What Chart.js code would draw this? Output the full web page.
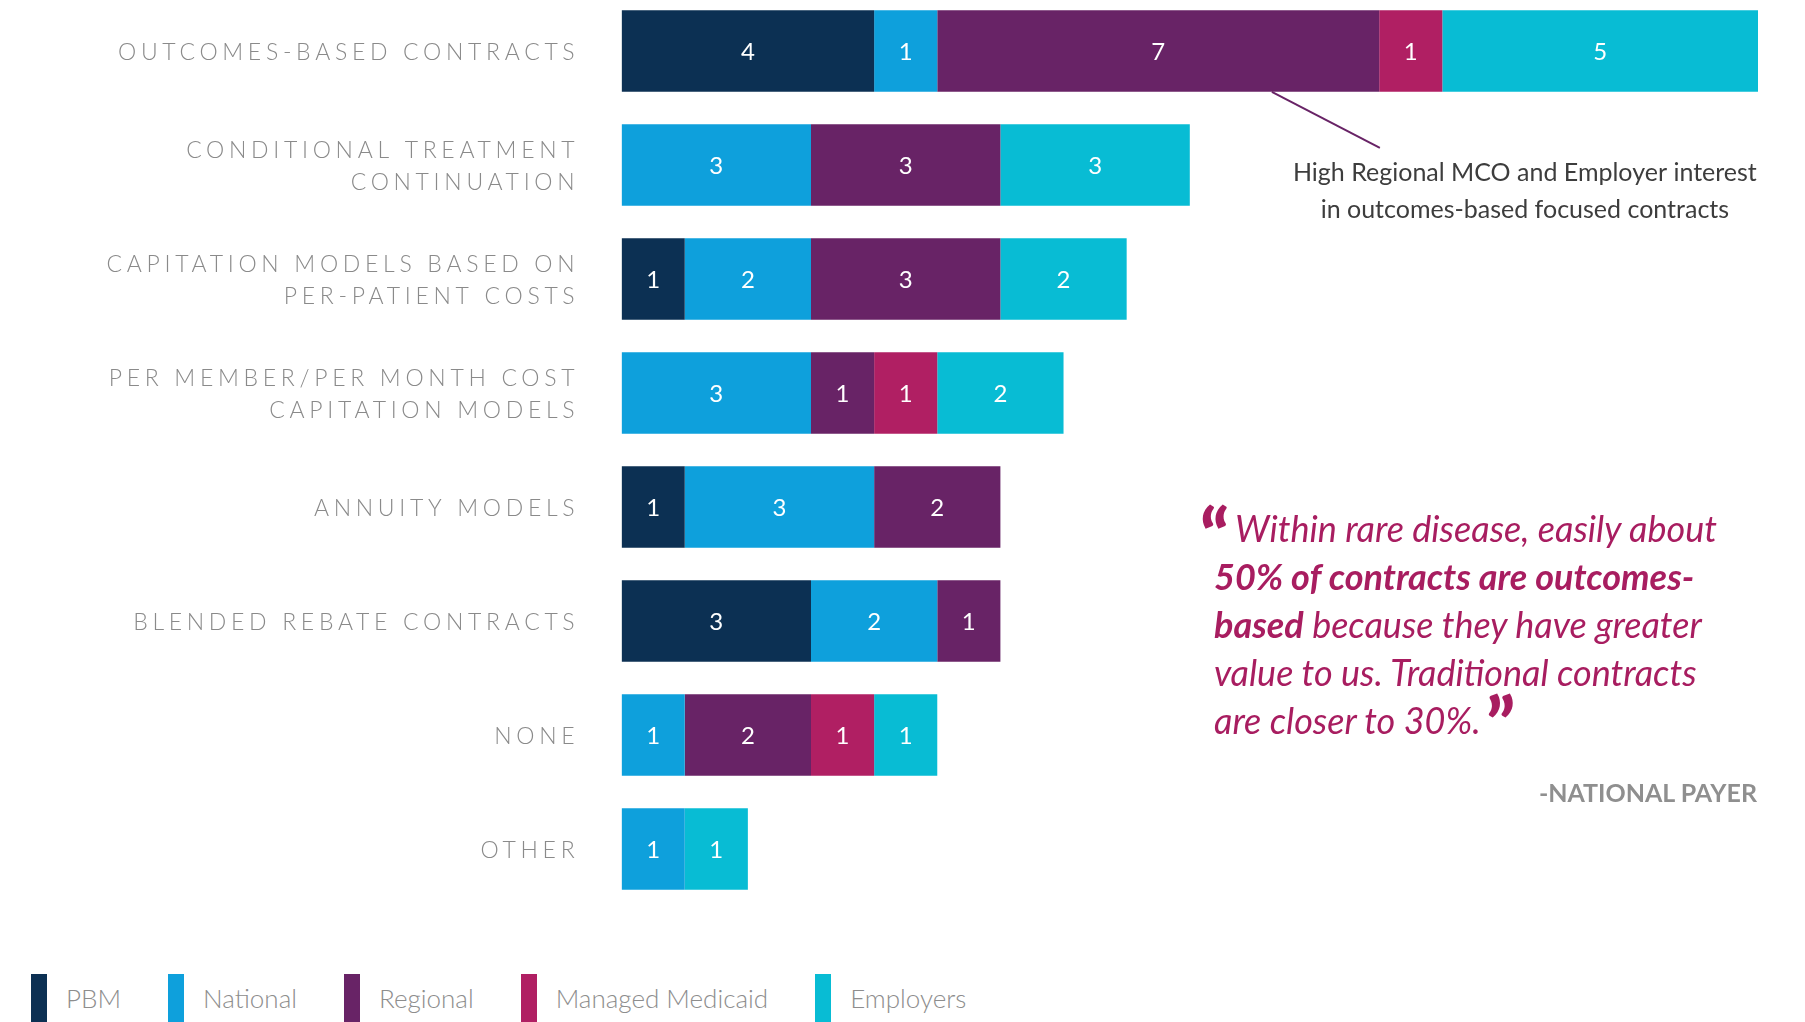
<!DOCTYPE html>
<html>
<head>
<meta charset="utf-8">
<title>Contract models by payer type</title>
<script src="https://cdn.jsdelivr.net/npm/chart.js@4.4.1/dist/chart.umd.min.js"></script>
<style>
    html, body {
        margin: 0;
        padding: 0;
        width: 1805px;
        height: 1022px;
        overflow: hidden;
        background: #ffffff;
        font-family: Lato, "Open Sans", sans-serif;
    }
    #chart-wrap {
        position: absolute;
        left: 0;
        top: -6px;
        width: 1805px;
        height: 912px;
    }
    #legend {
        position: absolute;
        left: 31px;
        top: 974px;
        display: flex;
        align-items: center;
        height: 48px;
    }
    .legend-item {
        display: flex;
        align-items: center;
        margin-right: 47px;
    }
    .legend-swatch {
        width: 16px;
        height: 48px;
        margin-right: 19px;
    }
    .legend-text {
        font-size: 26px;
        font-weight: 300;
        color: #8d8d8d;
    }
    #quote {
        position: absolute;
        left: 1214px;
        top: 504px;
        color: #a81d60;
        font-style: italic;
        font-weight: 400;
        font-size: 36px;
        line-height: 48px;
        white-space: nowrap;
    }
    #quote .first { padding-left: 21px; position: relative; }
    #quote .last { position: relative; }
    #quote b { font-weight: 700; }
    .qmark {
        position: absolute;
        font-style: normal;
        font-weight: 900;
        font-size: 74px;
        line-height: 1;
    }
    .qmark.open { left: -14px; top: -6px; }
    .qmark.close { top: -10px; }
    #source {
        position: absolute;
        right: 48px;
        top: 776px;
        font-size: 25px;
        line-height: 32px;
        font-weight: 700;
        color: #8f8f8f;
    }
</style>
</head>
<body>
<div id="chart-wrap"><canvas id="contracts-chart"></canvas></div>
<div id="quote">
    <div class="first"><span class="qmark open">“</span>Within rare disease, easily about</div>
    <div><b>50% of contracts are outcomes-</b></div>
    <div><b>based</b> because they have greater</div>
    <div>value to us. Traditional contracts</div>
    <div class="last"><span>are closer to 30%.</span><span class="qmark close" id="close-mark">”</span></div>
</div>
<div id="source">-NATIONAL PAYER</div>
<div id="legend"></div>

<script>
// Contract models, one row each (multi-line labels as arrays)
const categories = [
    ['OUTCOMES-BASED CONTRACTS'],
    ['CONDITIONAL TREATMENT', 'CONTINUATION'],
    ['CAPITATION MODELS BASED ON', 'PER-PATIENT COSTS'],
    ['PER MEMBER/PER MONTH COST', 'CAPITATION MODELS'],
    ['ANNUITY MODELS'],
    ['BLENDED REBATE CONTRACTS'],
    ['NONE'],
    ['OTHER']
];

// Respondent counts per payer type
const pbmCounts       = [4, 0, 1, 0, 1, 3, 0, 0];
const nationalCounts  = [1, 3, 2, 3, 3, 2, 1, 1];
const regionalCounts  = [7, 3, 3, 1, 2, 1, 2, 0];
const medicaidCounts  = [1, 0, 0, 1, 0, 0, 1, 0];
const employerCounts  = [5, 3, 2, 2, 0, 0, 1, 1];

const seriesNames  = ['PBM', 'National', 'Regional', 'Managed Medicaid', 'Employers'];
const seriesData   = [pbmCounts, nationalCounts, regionalCounts, medicaidCounts, employerCounts];
const seriesColors = ['#0c3053', '#0ea0dc', '#682366', '#b01f63', '#08bcd4'];

const axisMax = 18;

const calloutLines = [
    'High Regional MCO and Employer interest',
    'in outcomes-based focused contracts'
];

/**
 * Draws category labels, segment values and the callout
 */
const annotationsPlugin = {
    id: 'annotations',
    afterDatasetsDraw(chart) {
        const ctx = chart.ctx;
        const area = chart.chartArea;
        const yScale = chart.scales.y;
        const xScale = chart.scales.x;

        // Row labels, spaced-out capitals right aligned to the bars
        ctx.save();
        ctx.fillStyle = '#8a8a8a';
        ctx.font = '300 23px Lato';
        ctx.letterSpacing = '4.7px';
        ctx.textBaseline = 'middle';
        ctx.textAlign = 'left';
        const labelRight = area.left - 47;
        categories.forEach((lines, i) => {
            const cy = yScale.getPixelForValue(i) + 2;
            const lineGap = 32;
            const startY = cy - (lines.length - 1) * lineGap / 2;
            lines.forEach((line, j) => {
                const w = ctx.measureText(line).width - 4.7;
                ctx.fillText(line, labelRight - w, startY + j * lineGap);
            });
        });
        ctx.restore();

        // Value in the middle of each segment
        ctx.save();
        ctx.fillStyle = '#ffffff';
        ctx.font = '400 24px Lato';
        ctx.textAlign = 'center';
        ctx.textBaseline = 'middle';
        chart.data.datasets.forEach((ds, di) => {
            const meta = chart.getDatasetMeta(di);
            meta.data.forEach((bar, i) => {
                const v = ds.data[i];
                if (!v) return;
                ctx.fillText(String(v), (bar.x + bar.base) / 2, bar.y + 1);
            });
        });
        ctx.restore();

        // Callout line from the Regional segment of the first row
        const regionalBar = chart.getDatasetMeta(2).data[0];
        const sx = xScale.getPixelForValue(10.3);
        const sy = regionalBar.y + regionalBar.height / 2;
        const ex = sx + 108;
        const ey = sy + 56;
        ctx.save();
        ctx.strokeStyle = '#682366';
        ctx.lineWidth = 2;
        ctx.beginPath();
        ctx.moveTo(sx, sy);
        ctx.lineTo(ex, ey);
        ctx.stroke();

        ctx.fillStyle = '#3d3d3d';
        ctx.font = '400 25px Lato';
        ctx.textAlign = 'center';
        ctx.textBaseline = 'alphabetic';
        calloutLines.forEach((line, j) => {
            ctx.fillText(line, ex + 145, ey + 33 + j * 37);
        });
        ctx.restore();
    }
};

function buildLegend() {
    const legend = document.getElementById('legend');
    seriesNames.forEach((name, i) => {
        const item = document.createElement('div');
        item.className = 'legend-item';
        const swatch = document.createElement('div');
        swatch.className = 'legend-swatch';
        swatch.style.background = seriesColors[i];
        const text = document.createElement('span');
        text.className = 'legend-text';
        text.textContent = name;
        item.appendChild(swatch);
        item.appendChild(text);
        legend.appendChild(item);
    });
}

// Closing quote mark sits just after the last line of the quote
function placeClosingMark() {
    const last = document.querySelector('#quote .last span');
    const mark = document.getElementById('close-mark');
    mark.style.left = (last.offsetWidth + 5) + 'px';
}

document.addEventListener('DOMContentLoaded', function() {
    buildLegend();
    placeClosingMark();

    const canvas = document.getElementById('contracts-chart');
    new Chart(canvas, {
        type: 'bar',
        data: {
            labels: categories,
            datasets: seriesNames.map((name, i) => ({
                label: name,
                data: seriesData[i],
                backgroundColor: seriesColors[i],
                borderWidth: 0,
                barPercentage: 0.717,
                categoryPercentage: 1
            }))
        },
        options: {
            indexAxis: 'y',
            responsive: true,
            maintainAspectRatio: false,
            animation: false,
            layout: {
                padding: { left: 621.6, right: 47, top: 0, bottom: 0 }
            },
            plugins: {
                legend: { display: false },
                tooltip: { enabled: false }
            },
            scales: {
                x: {
                    stacked: true,
                    min: 0,
                    max: axisMax,
                    display: false
                },
                y: {
                    stacked: true,
                    display: false
                }
            }
        },
        plugins: [annotationsPlugin]
    });
});
</script>
</body>
</html>
